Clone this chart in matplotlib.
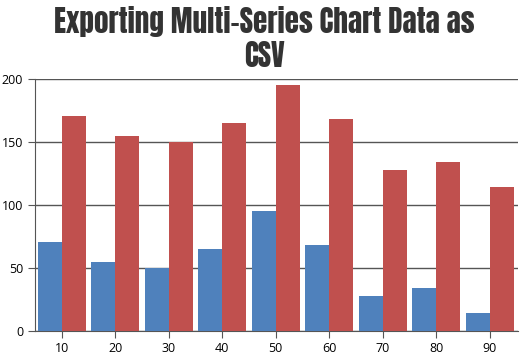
import matplotlib
matplotlib.use("Agg")
import matplotlib.pyplot as plt
from matplotlib import font_manager

x_vals = [10, 20, 30, 40, 50, 60, 70, 80, 90]
series1 = [71, 55, 50, 65, 95, 68, 28, 34, 14]
series2 = [171, 155, 150, 165, 195, 168, 128, 134, 114]
y_ticks = [0, 50, 100, 150, 200]
title = "Exporting Multi-Series Chart Data as\nCSV"

names = {f.name for f in font_manager.fontManager.ttflist}
title_family = "DejaVu Sans"
for cand in ["Anton", "Oswald", "Fjalla One", "Roboto Condensed", "Archivo Narrow"]:
    if cand in names:
        title_family = cand
        break
tick_family = "Open Sans" if "Open Sans" in names else "DejaVu Sans"

fig = plt.figure(figsize=(5.28, 3.6), dpi=100)
ax = fig.add_axes([35/528, 29/360, 483/528, 252/360])

w = 4.5
ax.bar([v - w/2 for v in x_vals], series1, width=w, color="#4F81BC", zorder=3)
ax.bar([v + w/2 for v in x_vals], series2, width=w, color="#C0504E", zorder=3)

ax.set_xlim(5, 95.3)
ax.set_ylim(0, 200)
ax.set_yticks(y_ticks)
ax.set_xticks(x_vals)
ax.yaxis.grid(True, color="#555555", linewidth=1, zorder=0)
for s in ["top", "right"]:
    ax.spines[s].set_visible(False)
for s in ["left", "bottom"]:
    ax.spines[s].set_color("#555555")
ax.tick_params(axis="both", colors="#555555", labelcolor="#000000", labelsize=9, length=5)
ax.tick_params(axis="x", pad=3)
for lab in ax.get_xticklabels() + ax.get_yticklabels():
    lab.set_family(tick_family)

fig.text(0.5, 0.982, title, ha="center", va="top", fontsize=21,
         family=title_family, color="#333333", linespacing=1.15)

fig.savefig("out.png", dpi=100)
